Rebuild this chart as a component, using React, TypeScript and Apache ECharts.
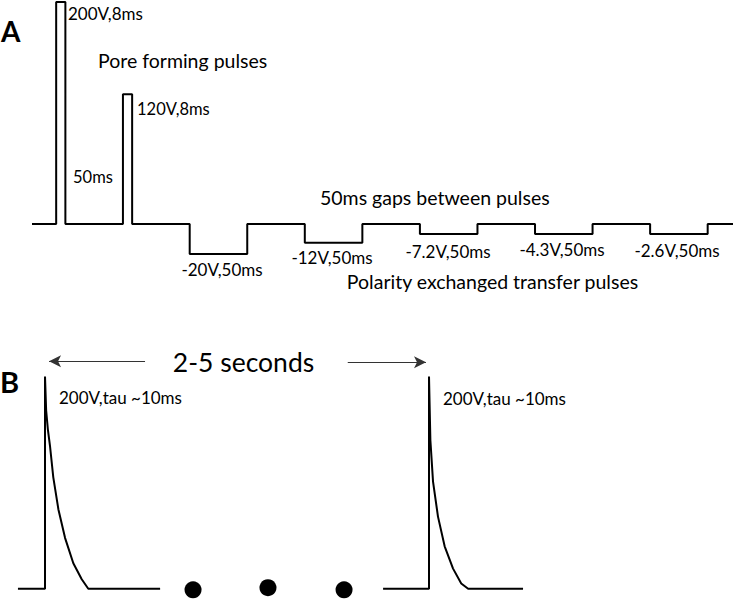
import { useEffect, useRef } from "react";
import * as echarts from "echarts";

// ---------- Panel A : pulse train (time in ms, amplitude as drawn) ----------
const poreStartsMs = [0, 58];
const poreWidthMs = 8;
const poreDrawnV = [200, 117];
const poreLabels = ["200V,8ms", "120V,8ms"];
const transferStartsMs = [116, 216, 316, 416, 516];
const transferWidthMs = 50;
const transferDrawnV = [-27, -17, -9, -9, -9];
const transferLabels = ["-20V,50ms", "-12V,50ms", "-7.2V,50ms", "-4.3V,50ms", "-2.6V,50ms"];
const traceAStartMs = -21;
const traceAEndMs = 588;

// ---------- Panel B : exponential decay pulses (schematic time in ms) ----------
const expStartsMs = [0, 333.6];
const expBaselineFromMs = [-23.5, 293.7];
const expBaselineToMs = [100, 415.3];
const decay1: [number, number][] = [
  [0, 200], [1, 168], [2.5, 150], [4.3, 135], [7.2, 105], [11.6, 75],
  [17.4, 48], [24.6, 24], [31.9, 9], [37.6, 0],
];
const decay2: [number, number][] = [
  [0, 200], [1.2, 140], [3.5, 101], [7.8, 68], [13.6, 40], [20.9, 19],
  [28, 5], [34, 0],
];
const ellipsisMs = [128.6, 193.7, 259.8];
const ellipsisV = [-1, 1, -1];

const FONT = "Lato, 'Open Sans', 'Noto Sans', sans-serif";

function buildTraceA(): [number, number][] {
  const pts: [number, number][] = [[traceAStartMs, 0]];
  poreStartsMs.forEach((t, i) => {
    pts.push([t, 0], [t, poreDrawnV[i]], [t + poreWidthMs, poreDrawnV[i]], [t + poreWidthMs, 0]);
  });
  transferStartsMs.forEach((t, i) => {
    pts.push([t, 0], [t, transferDrawnV[i]], [t + transferWidthMs, transferDrawnV[i]], [t + transferWidthMs, 0]);
  });
  pts.push([traceAEndMs, 0]);
  return pts;
}

function buildExp(i: number, decay: [number, number][]): [number, number][] {
  const s = expStartsMs[i];
  const pts: [number, number][] = [[expBaselineFromMs[i], 0], [s, 0]];
  decay.forEach(([t, v]) => pts.push([s + t, v]));
  pts.push([expBaselineToMs[i], 0]);
  return pts;
}

function txt(text: string, x: number, y: number, size: number, align = "left", weight = "normal") {
  return {
    type: "text",
    x,
    y,
    style: {
      text,
      fontSize: size,
      fontFamily: FONT,
      fontWeight: weight,
      fill: "#000",
      textAlign: align,
      align,
      textVerticalAlign: "middle",
      verticalAlign: "middle",
    },
  };
}

export default function App() {
  const ref = useRef<HTMLDivElement>(null);
  useEffect(() => {
    if (!ref.current) return;
    const chart = echarts.init(ref.current, null, { renderer: "svg" });
    const transferX = [222, 332, 448, 562, 677];
    const transferY = [269, 257, 251, 249, 250.5];
    const graphic: any[] = [
      txt("A", 1, 31, 28, "left", "bold"),
      txt(poreLabels[0], 68, 13, 17),
      txt("Pore forming pulses", 98, 60, 19.5),
      txt(poreLabels[1], 137, 108.5, 16.5),
      txt("50ms", 73, 177, 16.5),
      txt("50ms gaps between pulses", 320, 197, 19.5),
      ...transferLabels.map((l, i) => txt(l, transferX[i], transferY[i], 17, "center")),
      txt("Polarity exchanged transfer pulses", 492.5, 281, 19.5, "center"),
      txt("B", 0, 381, 29, "left", "bold"),
      txt("2-5 seconds", 243.5, 362, 26.5, "center"),
      txt("200V,tau ~10ms", 59, 397, 17),
      txt("200V,tau ~10ms", 443, 398, 17),
    ];
    chart.setOption({
      animation: false,
      grid: [
        { left: 32, top: 2, width: 701, height: 266.4 },
        { left: 0, top: 344.7, width: 733, height: 277.5 },
      ],
      xAxis: [
        { type: "value", gridIndex: 0, min: traceAStartMs, max: traceAEndMs, show: false },
        { type: "value", gridIndex: 1, min: -39.1, max: 597.7, show: false },
      ],
      yAxis: [
        { type: "value", gridIndex: 0, min: -40, max: 200, show: false },
        { type: "value", gridIndex: 1, min: -20, max: 230, show: false },
      ],
      graphic,
      series: [
        {
          type: "line",
          xAxisIndex: 0,
          yAxisIndex: 0,
          data: buildTraceA(),
          symbol: "none",
          clip: false,
          lineStyle: { color: "#000", width: 2 },
        },
        {
          type: "line",
          xAxisIndex: 1,
          yAxisIndex: 1,
          data: buildExp(0, decay1),
          symbol: "none",
          clip: false,
          lineStyle: { color: "#000", width: 2 },
          markLine: {
            silent: true,
            symbol: ["arrow", "none"],
            symbolSize: [9, 12],
            lineStyle: { color: "#333", width: 1, type: "solid" },
            label: { show: false },
            data: [
              [
                { coord: [3.5, 214.4], symbol: "arrow" },
                { coord: [86.9, 214.4], symbol: "none" },
              ],
              [
                { coord: [263, 213.5], symbol: "none" },
                { coord: [331, 213.5], symbol: "arrow" },
              ],
            ],
          },
        },
        {
          type: "line",
          xAxisIndex: 1,
          yAxisIndex: 1,
          data: buildExp(1, decay2),
          symbol: "none",
          clip: false,
          lineStyle: { color: "#000", width: 2 },
        },
        {
          type: "scatter",
          xAxisIndex: 1,
          yAxisIndex: 1,
          data: ellipsisMs.map((t, i) => [t, ellipsisV[i]]),
          symbol: "circle",
          symbolSize: 17,
          clip: false,
          itemStyle: { color: "#000", opacity: 1 },
        },
      ],
    });
    return () => chart.dispose();
  }, []);
  return (
    <div
      ref={ref}
      style={{ position: "fixed", left: 0, top: 0, width: 733, height: 610, background: "#fff" }}
    />
  );
}
